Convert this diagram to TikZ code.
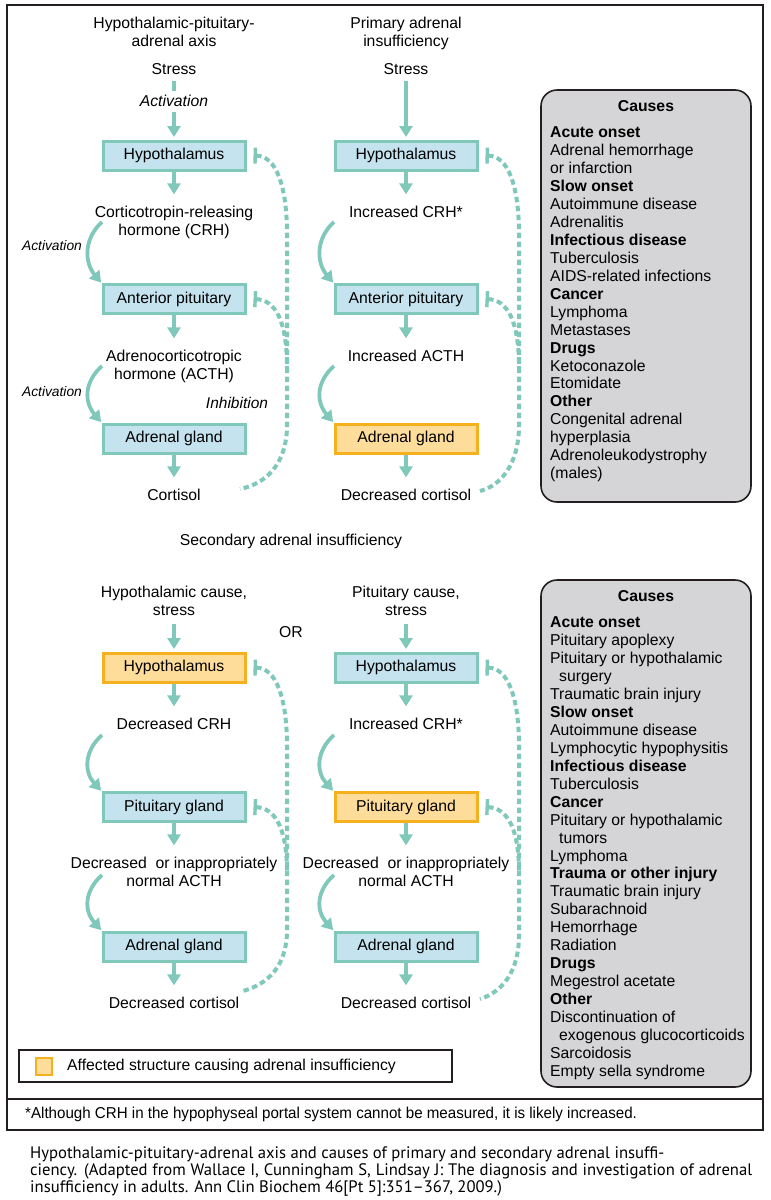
\documentclass[tikz,border=0pt]{standalone}
\usepackage{fontspec}
\setmainfont{Liberation Sans}
\newfontfamily\notefont[FakeStretch=0.96]{Liberation Sans}
\newfontfamily\capfont[Scale=1.11]{PT Sans}
\usepackage{tikz}
\usetikzlibrary{positioning,arrows.meta}
\usepackage{xcolor}

\definecolor{axisgreen}{HTML}{80C8B9}
\definecolor{organfill}{HTML}{C5E3EE}
\definecolor{affectfill}{HTML}{FEDD9B}
\definecolor{affectline}{HTML}{F6B01E}
\definecolor{causefill}{HTML}{D5D5D7}
\definecolor{frameblack}{HTML}{231F20}

\begin{document}
\begin{tikzpicture}[
    x = 1pt, y = -1pt,
    font = \fontsize{15.75}{18}\selectfont,
    organ/.style={draw=axisgreen, fill=organfill, line width=3pt,
        minimum width=142pt, minimum height=29pt, inner sep=0pt},
    affected/.style={organ, draw=affectline, fill=affectfill},
    textlab/.style={anchor=north, align=center, inner sep=2pt},
    flow/.style={-{Triangle[width=13pt,length=11pt]}, draw=axisgreen,
        line width=3.4pt, shorten >=2.5pt},
    totext/.style={shorten >=9pt},
    curvedflow/.style={flow, line width=3.8pt, shorten >=0.5pt},
    actlab/.style={font=\fontsize{13.8}{16}\selectfont\itshape},
    inhib/.style={{Bar[width=16pt,line width=3.4pt]}-, draw=axisgreen,
        line width=4pt, dash pattern=on 5.5pt off 3.5pt},
    causebox/.style={draw=frameblack, fill=causefill, line width=1.6pt,
        rounded corners=16pt},
    causeitem/.style={anchor=base west, inner sep=0pt},
    captionline/.style={anchor=base west, inner sep=0pt,
        font=\capfont\fontsize{15}{17}\selectfont},
    outerframe/.style={draw=frameblack, line width=2.6pt}
]
    \useasboundingbox (0,0) rectangle (771,1200);
    \draw[outerframe] (7,5) rectangle (763,1130);
    \draw[outerframe] (7,1099) -- (763,1099);

    % normal axis and primary insufficiency
    \node[textlab] (titA) at (174,14.4) {Hypothalamic-pituitary-\\adrenal axis};
    \node[textlab] (titB) at (406,14.4) {Primary adrenal\\insufficiency};
    \node[textlab] (stressA) at (174,61.4) {Stress};
    \node[textlab] (stressB) at (406,61.4) {Stress};
    \node[organ] (hypA) at (174,155.5) {Hypothalamus};
    \node[organ] (hypB) at (406,155.5) {Hypothalamus};
    \node[textlab] (crhA) at (174,203.4) {Corticotropin-releasing\\hormone (CRH)};
    \node[textlab] (crhB) at (406,203.4) {Increased CRH*};
    \node[organ] (apA) at (174,299) {Anterior pituitary};
    \node[organ] (apB) at (406,299) {Anterior pituitary};
    \node[textlab] (acthA) at (174,347.4) {Adrenocorticotropic\\hormone (ACTH)};
    \node[textlab] (acthB) at (406,347.4) {Increased ACTH};
    \node[organ] (adrA) at (174,438.5) {Adrenal gland};
    \node[affected] (adrB) at (406,438.5) {Adrenal gland};
    \node[textlab] (cortA) at (174,486.4) {Cortisol};
    \node[textlab] (cortB) at (406,486.4) {Decreased cortisol};

    \node[actlab] (actA) at (52,246) {Activation};
    \node[actlab] (actB) at (52,392) {Activation};
    \node[actlab, font=\fontsize{15.5}{18}\selectfont\itshape] (inhT) at (237,403) {Inhibition};

    \draw[flow, shorten <=4pt] (stressA) -- node[pos=0.39, fill=white, inner ysep=4.5pt,
        font=\fontsize{15.75}{18}\selectfont\itshape] (actT) {Activation} (hypA);
    \draw[flow, shorten <=4pt] (stressB) -- (hypB);
    \draw[flow, totext] (hypA) -- (crhA);
    \draw[flow, totext] (hypB) -- (crhB);
    \draw[flow, totext] (apA) -- (acthA);
    \draw[flow, totext] (apB) -- (acthB);
    \draw[flow, totext] (adrA) -- (cortA);
    \draw[flow, totext] (adrB) -- (cortB);

    \coordinate (cA1) at (102,222);
    \coordinate (cA2) at (102,366);
    \coordinate (cB1) at (334,222);
    \coordinate (cB2) at (334,366);
    \draw[curvedflow] (cA1) .. controls (84,238) and (84,262) .. (apA.north west);
    \draw[curvedflow] (cA2) .. controls (84,382) and (84,402) .. (adrA.north west);
    \draw[curvedflow] (cB1) .. controls (316,238) and (316,262) .. (apB.north west);
    \draw[curvedflow] (cB2) .. controls (316,382) and (316,402) .. (adrB.north west);

    \coordinate (endA) at (240,489);
    \coordinate (joinA) at (287,368);
    \coordinate (endB) at (480,491);
    \coordinate (joinB) at (519,368);
    \draw[inhib] ([xshift=7pt]hypA.east) .. controls (276,156) and (287,185) .. (287,235)
        -- (287,425) .. controls (287,465) and (265,484) .. (endA);
    \draw[inhib] ([xshift=7pt]apA.east) .. controls (276,300) and (287,322) .. (joinA);
    \draw[inhib] ([xshift=7pt]hypB.east) .. controls (508,156) and (519,185) .. (519,235)
        -- (519,425) .. controls (519,465) and (500,486) .. (endB);
    \draw[inhib] ([xshift=7pt]apB.east) .. controls (508,300) and (519,322) .. (joinB);

    % secondary insufficiency
    \node[textlab] (secT) at (291,531.4) {Secondary adrenal insufficiency};
    \node[textlab] (causeA) at (174,583.4) {Hypothalamic cause,\\stress};
    \node[textlab] (causeB) at (406,583.4) {Pituitary cause,\\stress};
    \node[textlab] (orT) at (291,624.4) {OR};
    \node[affected] (hypC) at (174,667.5) {Hypothalamus};
    \node[organ] (hypD) at (406,667.5) {Hypothalamus};
    \node[textlab] (crhC) at (174,715.4) {Decreased CRH};
    \node[textlab] (crhD) at (406,715.4) {Increased CRH*};
    \node[organ] (pitC) at (174,807) {Pituitary gland};
    \node[affected] (pitD) at (406,807) {Pituitary gland};
    \node[textlab] (acthC) at (174,854.4) {Decreased\ \ or inappropriately\\normal ACTH};
    \node[textlab] (acthD) at (406,854.4) {Decreased\ \ or inappropriately\\normal ACTH};
    \node[organ] (adrC) at (174,946.5) {Adrenal gland};
    \node[organ] (adrD) at (406,946.5) {Adrenal gland};
    \node[textlab] (cortC) at (174,994.4) {Decreased cortisol};
    \node[textlab] (cortD) at (406,994.4) {Decreased cortisol};

    \draw[flow, shorten <=7pt] (causeA) -- (hypC);
    \draw[flow, shorten <=7pt] (causeB) -- (hypD);
    \draw[flow, totext] (hypC) -- (crhC);
    \draw[flow, totext] (hypD) -- (crhD);
    \draw[flow, totext] (pitC) -- (acthC);
    \draw[flow, totext] (pitD) -- (acthD);
    \draw[flow, totext] (adrC) -- (cortC);
    \draw[flow, totext] (adrD) -- (cortD);

    \coordinate (cC1) at (102,735);
    \coordinate (cC2) at (102,875);
    \coordinate (cD1) at (334,735);
    \coordinate (cD2) at (334,875);
    \draw[curvedflow] (cC1) .. controls (84,751) and (84,772) .. (pitC.north west);
    \draw[curvedflow] (cC2) .. controls (84,891) and (84,911) .. (adrC.north west);
    \draw[curvedflow] (cD1) .. controls (316,751) and (316,772) .. (pitD.north west);
    \draw[curvedflow] (cD2) .. controls (316,891) and (316,911) .. (adrD.north west);

    \coordinate (endC) at (243,991);
    \coordinate (joinC) at (287,872);
    \coordinate (endD) at (480,999);
    \coordinate (joinD) at (519,872);
    \draw[inhib] ([xshift=7pt]hypC.east) .. controls (276,668) and (287,697) .. (287,747)
        -- (287,930) .. controls (287,966) and (268,984) .. (endC);
    \draw[inhib] ([xshift=7pt]pitC.east) .. controls (276,808) and (287,830) .. (joinC);
    \draw[inhib] ([xshift=7pt]hypD.east) .. controls (508,668) and (519,697) .. (519,747)
        -- (519,935) .. controls (519,972) and (502,992) .. (endD);
    \draw[inhib] ([xshift=7pt]pitD.east) .. controls (508,808) and (519,830) .. (joinD);

    % causes
    \draw[causebox] (541,90) rectangle (751,502);
    \node[font=\fontsize{15.75}{18}\selectfont\bfseries] (causesA) at (646,106) {Causes};
    \foreach \t [count=\i] in {\textbf{Acute onset}, Adrenal hemorrhage, or infarction,
        \textbf{Slow onset}, Autoimmune disease, Adrenalitis, \textbf{Infectious disease},
        Tuberculosis, AIDS-related infections, \textbf{Cancer}, Lymphoma, Metastases,
        \textbf{Drugs}, Ketoconazole, Etomidate, \textbf{Other}, Congenital adrenal,
        hyperplasia, Adrenoleukodystrophy, {(males)}}
        \node[causeitem] (prim\i) at (550,119.7+17.95*\i) {\t};

    \draw[causebox] (541,580) rectangle (751,1087);
    \node[font=\fontsize{15.75}{18}\selectfont\bfseries] (causesB) at (646,596) {Causes};
    \foreach \t [count=\i] in {\textbf{Acute onset}, Pituitary apoplexy,
        Pituitary or hypothalamic, \hspace*{9pt}surgery, Traumatic brain injury,
        \textbf{Slow onset}, Autoimmune disease, Lymphocytic hypophysitis,
        \textbf{Infectious disease}, Tuberculosis, \textbf{Cancer},
        Pituitary or hypothalamic, \hspace*{9pt}tumors, Lymphoma,
        \textbf{Trauma or other injury}, Traumatic brain injury, Subarachnoid,
        Hemorrhage, Radiation, \textbf{Drugs}, Megestrol acetate, \textbf{Other},
        Discontinuation of, \hspace*{9pt}exogenous glucocorticoids, Sarcoidosis,
        Empty sella syndrome}
        \node[causeitem] (sec\i) at (550,609.7+17.95*\i) {\t};

    % legend
    \draw[outerframe, line width=2.2pt] (19,1050) rectangle (452,1082);
    \node[affected, minimum width=16pt, minimum height=17pt, line width=2.2pt] (keysq) at (44,1066.5) {};
    \node[anchor=west, inner sep=0pt] (keytx) at (67,1066) {Affected structure causing adrenal insufficiency};

    % footnote and caption
    \node[anchor=west, inner sep=0pt, font=\notefont\fontsize{15.75}{18}\selectfont] (foot) at (25,1114)
        {*Although CRH in the hypophyseal portal system cannot be measured, it is likely increased.};
    \node[captionline] (capA) at (30,1158)
        {Hypothalamic-pituitary-adrenal axis and causes of primary and secondary adrenal insuffi-};
    \node[captionline] (capB) at (30,1175)
        {\makebox[722pt][s]{ciency. (Adapted from Wallace I, Cunningham S, Lindsay J: The diagnosis and investigation of adrenal}};
    \node[captionline] (capC) at (30,1192)
        {insufficiency in adults. Ann Clin Biochem 46[Pt 5]:351–367, 2009.)};
\end{tikzpicture}
\end{document}
